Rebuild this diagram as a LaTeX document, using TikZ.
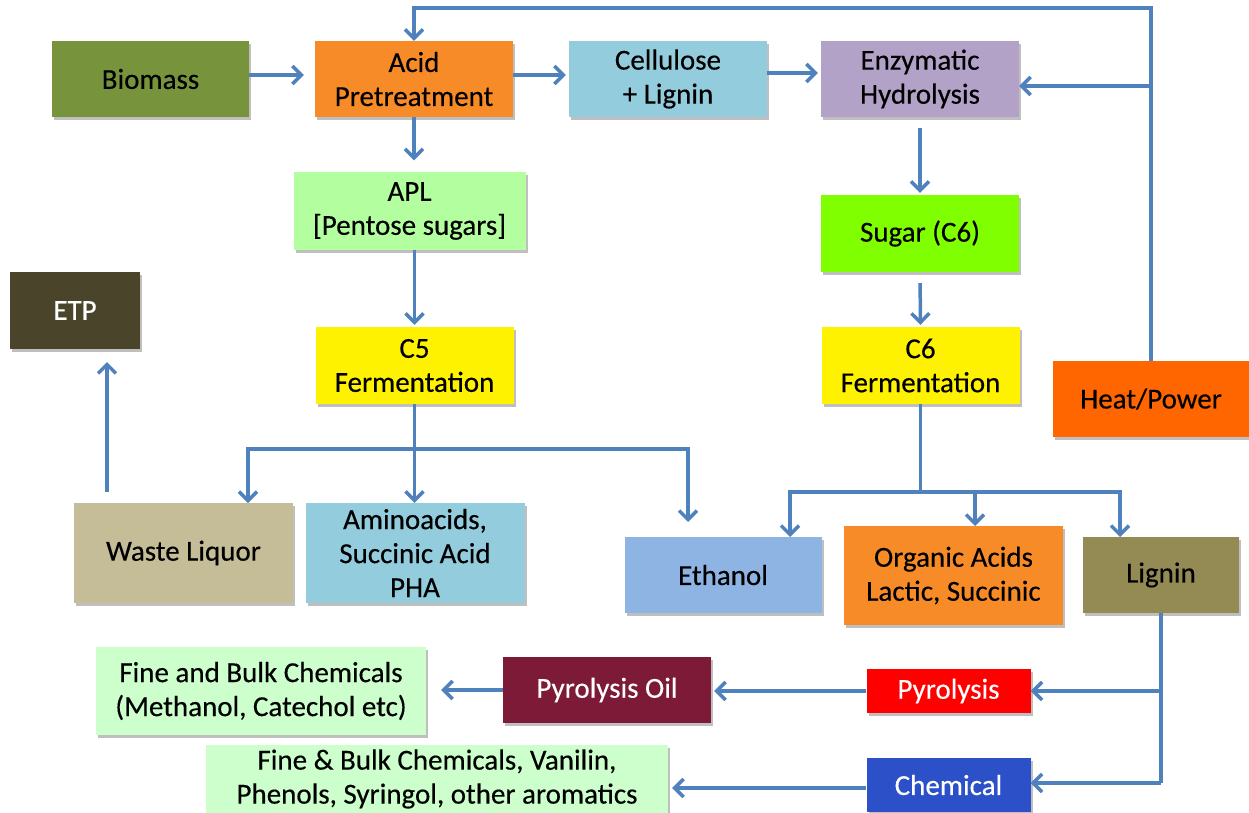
\documentclass[tikz,border=0pt]{standalone}
\usepackage{fontspec}
\setmainfont{Carlito}[FakeBold=0.35]
\usetikzlibrary{arrows.meta,shadows}
\newcommand\diagfont{\fontsize{29}{34}\selectfont}
\definecolor{arrowblue}{HTML}{4F81BD}
\definecolor{cBiomass}{HTML}{77933C}
\definecolor{cOrange}{HTML}{F68B28}
\definecolor{cLightBlue}{HTML}{93CDDD}
\definecolor{cLavender}{HTML}{B3A2C7}
\definecolor{cApl}{HTML}{B3FFA0}
\definecolor{cSugar}{HTML}{80FF00}
\definecolor{cEtp}{HTML}{4A452A}
\definecolor{cHeat}{HTML}{FF6600}
\definecolor{cWaste}{HTML}{C4BD97}
\definecolor{cEthanol}{HTML}{8EB4E3}
\definecolor{cLignin}{HTML}{948A54}
\definecolor{cFine}{HTML}{CCFFCC}
\definecolor{cPyroil}{HTML}{7C1A37}
\definecolor{cChem}{HTML}{2B50C8}
\tikzset{
  box/.style={rectangle, inner sep=0pt, align=center, font=\diagfont,
    drop shadow={shadow xshift=2pt, shadow yshift=-3pt, fill=black, opacity=0.25}},
  wtext/.style={text=white},
  flow/.style={draw=arrowblue, line width=3.5pt},
  arr/.style={flow, -{Straight Barb[length=9pt,width=18pt]}}
}
\begin{document}
\begin{tikzpicture}[x=1pt,y=-1pt]
\useasboundingbox (0,0) rectangle (1249,813);
\fill[white] (0,0) rectangle (1249,813);

% process boxes
\node[box, fill=cBiomass,   minimum width=197pt, minimum height=76pt] (biomass) at (150.5,79) {Biomass};
\node[box, fill=cOrange,    minimum width=198pt, minimum height=76pt] (acid)    at (414,79)   {Acid\\Pretreatment};
\node[box, fill=cLightBlue, minimum width=198pt, minimum height=76pt] (cell)    at (668,79)   {Cellulose\\+ Lignin};
\node[box, fill=cLavender,  minimum width=198pt, minimum height=76pt] (enz)     at (920,79)   {Enzymatic\\Hydrolysis};
\node[box, fill=cApl,       minimum width=232pt, minimum height=77pt] (apl)     at (409.5,211){APL\\{[Pentose sugars]}};
\node[box, fill=cSugar,     minimum width=198pt, minimum height=77pt] (sugar)   at (920,233.5){Sugar (C6)};
\node[box, fill=cEtp, wtext,minimum width=130pt, minimum height=77pt] (etp)     at (75,310.5) {ETP};
\node[box, fill=yellow,     minimum width=198pt, minimum height=77pt] (c5)      at (414.5,365.5){C5\\Fermentation};
\node[box, fill=yellow,     minimum width=198pt, minimum height=77pt] (c6)      at (920.5,365.5){C6\\Fermentation};
\node[box, fill=cHeat,      minimum width=196pt, minimum height=76pt] (heat)    at (1151,399) {Heat/Power};
\node[box, fill=cWaste,     minimum width=219pt, minimum height=100pt](waste)   at (183.5,553){Waste Liquor};
\node[box, fill=cLightBlue, minimum width=219pt, minimum height=100pt](amino)   at (415,553)  {Aminoacids,\\Succinic Acid\\PHA};
\node[box, fill=cEthanol,   minimum width=197pt, minimum height=76pt] (ethanol) at (723,575)  {Ethanol};
\node[box, fill=cOrange,    minimum width=219pt, minimum height=99pt] (organic) at (953.5,575.5){Organic Acids\\Lactic, Succinic};
\node[box, fill=cLignin,    minimum width=156pt, minimum height=76pt] (lignin)  at (1161,575) {Lignin};
\node[box, fill=cFine,      minimum width=330pt, minimum height=88pt] (fine1)   at (261,691)  {Fine and Bulk Chemicals\\(Methanol, Catechol etc)};
\node[box, fill=cPyroil, wtext, minimum width=208pt, minimum height=66pt] (pyroil) at (607,690) {Pyrolysis Oil};
\node[box, fill=red, wtext, minimum width=164pt, minimum height=44pt] (pyro)    at (948.5,691){Pyrolysis};
\node[box, fill=cChem, wtext, minimum width=164pt, minimum height=54pt] (chem)  at (948.5,785){Chemical};
\node[box, fill=cFine,      minimum width=462pt, minimum height=68pt] (fine2)   at (437,779)  {Fine \& Bulk Chemicals, Vanilin,\\Phenols, Syringol, other aromatics};

% branch points and entry points
\coordinate (fbtop)   at (414,8);
\coordinate (fbenz)   at (1151,86);
\coordinate (c5split) at (414.5,449);
\coordinate (wastein) at (248,503);
\coordinate (ethinA)  at (688,522);
\coordinate (c6split) at (920.5,492);
\coordinate (ethinB)  at (790,537);
\coordinate (orgin)   at (975,526);
\coordinate (lignin in) at (1120,537);
\coordinate (wasteout) at (107,503);
\coordinate (etpin)   at (107,349);
\coordinate (lgbot)   at (1161,783);
\coordinate (chemout) at ([yshift=-3pt]chem.west);

% main line
\draw[arr, shorten >=11pt] ([yshift=4pt]biomass.east) -- ([yshift=4pt]acid.west);
\draw[arr, shorten >=3pt]  ([yshift=4pt]acid.east) -- ([yshift=4pt]cell.west);
\draw[arr, shorten >=3pt]  ([yshift=6pt]cell.east) -- ([yshift=6pt]enz.west);
\draw[arr, shorten >=12pt] (acid.south) -- (acid.south |- apl.north);
\draw[arr, shorten >=2pt]  (c5.north |- apl.south) -- (c5.north);
\draw[arr, shorten <=11pt, shorten >=2pt] (enz.south) -- (sugar.north);
\draw[arr, shorten <=11pt, shorten >=2pt] (sugar.south) -- (c6.north);

% heat / power recycle
\draw[arr] (heat.north) |- (fbtop) -- (acid.north);
\draw[arr] (fbenz) -- (fbenz -| enz.east);

% C5 fermentation outputs
\draw[arr] (c5.south) -- (c5.south |- amino.north);
\draw[arr] (c5split) -| (wastein);
\draw[arr] (c5split) -| (ethinA);
\draw[arr, shorten <=11pt, shorten >=13pt] (wasteout) -- (etpin);

% C6 fermentation outputs
\draw[flow] (c6.south) -- (c6split);
\draw[arr] (c6split) -| (ethinB);
\draw[arr] (c6split) -| (orgin);
\draw[arr] (c6split) -| (lignin in);

% lignin routes
\draw[flow] (lignin.south) -- (lgbot);
\draw[arr] (lignin.south |- pyro.east) -- (pyro.east);
\draw[arr] (lgbot) -- (lgbot -| chem.east);
\draw[arr, shorten >=3pt]  (pyro.west) -- (pyro.west -| pyroil.east);
\draw[arr, shorten >=15pt] (pyroil.west) -- (pyroil.west -| fine1.east);
\draw[arr, shorten >=4pt]  (chemout) -- (chemout -| fine2.east);
\end{tikzpicture}
\end{document}
